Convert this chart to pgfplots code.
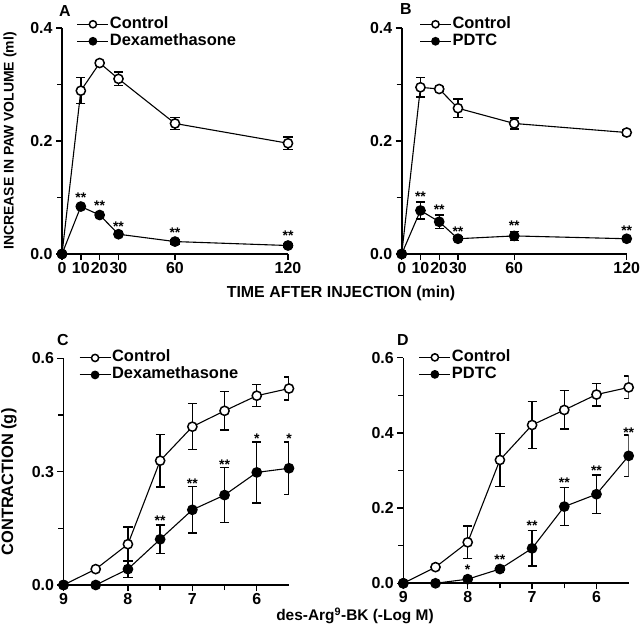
\documentclass[border=0pt]{standalone}
\usepackage{fontspec}
\setmainfont{Liberation Sans}
\usepackage{pgfplots}
\pgfplotsset{compat=1.18}

\pgfplotsset{
  panel/.style={
    scale only axis,
    anchor=south west,
    axis x line*=bottom, axis y line*=left,
    axis line style={line width=1.6bp},
    tick align=outside,
    major tick length=6bp, minor tick length=5bp,
    every tick/.style={black, line width=1.4bp},
    tick label style={font=\fontsize{16}{16}\selectfont\bfseries},
    xticklabel style={inner sep=2bp},
    /pgf/number format/assume math mode=true,
    yticklabel style={/pgf/number format/.cd,fixed,fixed zerofill,precision=1},
    xticklabel style={/pgf/number format/.cd,fixed,precision=0},
    legend style={draw=none, fill=none, inner sep=0pt, row sep=0pt,
      font=\fontsize{16.5}{18}\selectfont\bfseries,
      nodes={inner sep=1bp, text height=11.5bp, text depth=3.5bp},
      /tikz/every even column/.append style={column sep=3bp},
      anchor=north west},
    legend cell align=left,
    legend image code/.code={\draw[##1,mark size=3.6bp,mark repeat=2,mark phase=2]
      plot coordinates {(0bp,0bp) (15.5bp,0bp) (31bp,0bp)};},
  },
  ctrl/.style={black, line width=1.1bp, mark=*, mark size=4.6bp,
    mark options={fill=white, draw=black, line width=1.5bp},
    error bars/.cd, y dir=both, y explicit,
    error bar style={line width=1.4bp},
    error mark options={rotate=90, line width=1.4bp, mark size=4.6bp}},
  treat/.style={black, line width=1.1bp, mark=*, mark size=4.6bp,
    mark options={fill=black, draw=black, line width=1.5bp},
    error bars/.cd, y dir=both, y explicit,
    error bar style={line width=1.4bp},
    error mark options={rotate=90, line width=1.4bp, mark size=4.6bp}},
  stars/.style={only marks, mark=none, forget plot, nodes near coords,
    point meta=explicit symbolic,
    nodes near coords style={font=\fontsize{14}{14}\selectfont\bfseries,
      anchor=center, yshift=-2.8bp, inner sep=0pt}},
}

\begin{document}
\begin{tikzpicture}
\useasboundingbox (0,0) rectangle (640bp,627bp);

% ---------- A ----------
\begin{axis}[panel, at={(62bp,373bp)}, width=226bp, height=226bp, clip=false,
  xmin=0, xmax=120, ymin=0, ymax=0.4,
  xtick={0,10,20,30,60,120}, ytick={0,0.2,0.4}, minor ytick={0.1,0.3},
  legend style={at={(0.065,1.055)}}]
\addplot[ctrl] table[x=t, y=v, y error=e] {
t v e
0 0 0
10 0.289 0.023
20 0.338 0.004
30 0.310 0.012
60 0.231 0.011
120 0.196 0.011
};
\addplot[treat] table[x=t, y=v, y error=e] {
t v e
0 0 0
10 0.084 0.004
20 0.069 0.004
30 0.035 0.004
60 0.022 0.004
120 0.015 0.004
};
\legend{Control, Dexamethasone}
\addplot[stars] table[x=t, y=v, meta=s] {
t v s
10 0.104 **
20 0.090 **
30 0.054 **
60 0.042 **
120 0.037 **
};
\end{axis}

% ---------- B ----------
\begin{axis}[panel, at={(401.7bp,373bp)}, width=225bp, height=226bp, clip=false,
  xmin=0, xmax=120, ymin=0, ymax=0.4,
  xtick={0,10,20,30,60,120}, ytick={0,0.2,0.4}, minor ytick={0.1,0.3},
  legend style={at={(0.078,1.055)}}]
\addplot[ctrl] table[x=t, y=v, y error=e] {
t v e
0 0 0
10 0.295 0.017
20 0.292 0.004
30 0.258 0.016
60 0.231 0.010
120 0.215 0.005
};
\addplot[treat] table[x=t, y=v, y error=e] {
t v e
0 0 0
10 0.077 0.015
20 0.057 0.012
30 0.027 0.003
60 0.032 0.008
120 0.027 0.003
};
\legend{Control, PDTC}
\addplot[stars] table[x=t, y=v, meta=s] {
t v s
10 0.106 **
20 0.084 **
30 0.044 **
60 0.055 **
120 0.047 **
};
\end{axis}

% ---------- C ----------
\begin{axis}[panel, at={(63.5bp,42bp)}, width=225.5bp, height=226.7bp, clip=true,
  x dir=reverse, xmin=5.5, xmax=9, ymin=0, ymax=0.6,
  xtick={6,7,8,9}, minor xtick={6.5,7.5,8.5},
  ytick={0,0.3,0.6}, minor ytick={0.15,0.45},
  legend style={at={(0.068,1.04)}}]
\addplot[ctrl] table[x=c, y=v, y error=e] {
c v e
9 0 0
8.5 0.042 0.004
8 0.108 0.045
7.5 0.329 0.070
7 0.419 0.061
6.5 0.461 0.051
6 0.501 0.029
5.5 0.520 0.030
};
\addplot[treat] table[x=c, y=v, y error=e] {
c v e
9 0 0
8.5 0 0
8 0.042 0.022
7.5 0.121 0.038
7 0.199 0.061
6.5 0.238 0.073
6 0.298 0.081
5.5 0.309 0.070
};
\legend{Control, Dexamethasone}
\addplot[stars] table[x=c, y=v, meta=s] {
c v s
7.5 0.177 **
7 0.276 **
6.5 0.327 **
6 0.394 *
5.5 0.394 *
};
\end{axis}

% ---------- D ----------
\begin{axis}[panel, at={(403.3bp,43.7bp)}, width=225.4bp, height=225.6bp, clip=true,
  x dir=reverse, xmin=5.5, xmax=9, ymin=0, ymax=0.6,
  xtick={6,7,8,9}, minor xtick={6.5,7.5,8.5},
  ytick={0,0.2,0.4,0.6}, minor ytick={0.1,0.3,0.5},
  legend style={at={(0.068,1.04)}}]
\addplot[ctrl] table[x=c, y=v, y error=e] {
c v e
9 0 0
8.5 0.043 0.004
8 0.109 0.043
7.5 0.328 0.071
7 0.421 0.062
6.5 0.461 0.051
6 0.502 0.030
5.5 0.521 0.030
};
\addplot[treat] table[x=c, y=v, y error=e] {
c v e
9 0 0
8.5 0 0
8 0.011 0.003
7.5 0.038 0.004
7 0.093 0.047
6.5 0.204 0.050
6 0.237 0.051
5.5 0.339 0.055
};
\legend{Control, PDTC}
\addplot[stars] table[x=c, y=v, meta=s] {
c v s
8 0.043 *
7.5 0.069 **
7 0.160 **
6.5 0.275 **
6 0.308 **
5.5 0.409 **
};
\end{axis}

% panel letters and shared labels
\node[font=\fontsize{16}{16}\selectfont\bfseries] at (65bp,616bp) {A};
\node[font=\fontsize{16}{16}\selectfont\bfseries] at (406bp,618bp) {B};
\node[font=\fontsize{16}{16}\selectfont\bfseries] at (63bp,287bp) {C};
\node[font=\fontsize{16}{16}\selectfont\bfseries] at (403bp,287bp) {D};
\node[font=\fontsize{14}{14}\selectfont\bfseries, rotate=90] at (10bp,486bp) {INCREASE IN PAW VOLUME (ml)};
\node[font=\fontsize{16.5}{16.5}\selectfont\bfseries, rotate=90] at (9bp,145bp) {CONTRACTION (g)};
\node[font=\fontsize{16}{16}\selectfont\bfseries] at (341bp,334bp) {TIME AFTER INJECTION (min)};
\node[font=\fontsize{15.5}{15.5}\selectfont\bfseries, inner sep=0pt] at (355bp,11bp) {des-Arg\textsuperscript{9}-BK (-Log M)};
\end{tikzpicture}
\end{document}
